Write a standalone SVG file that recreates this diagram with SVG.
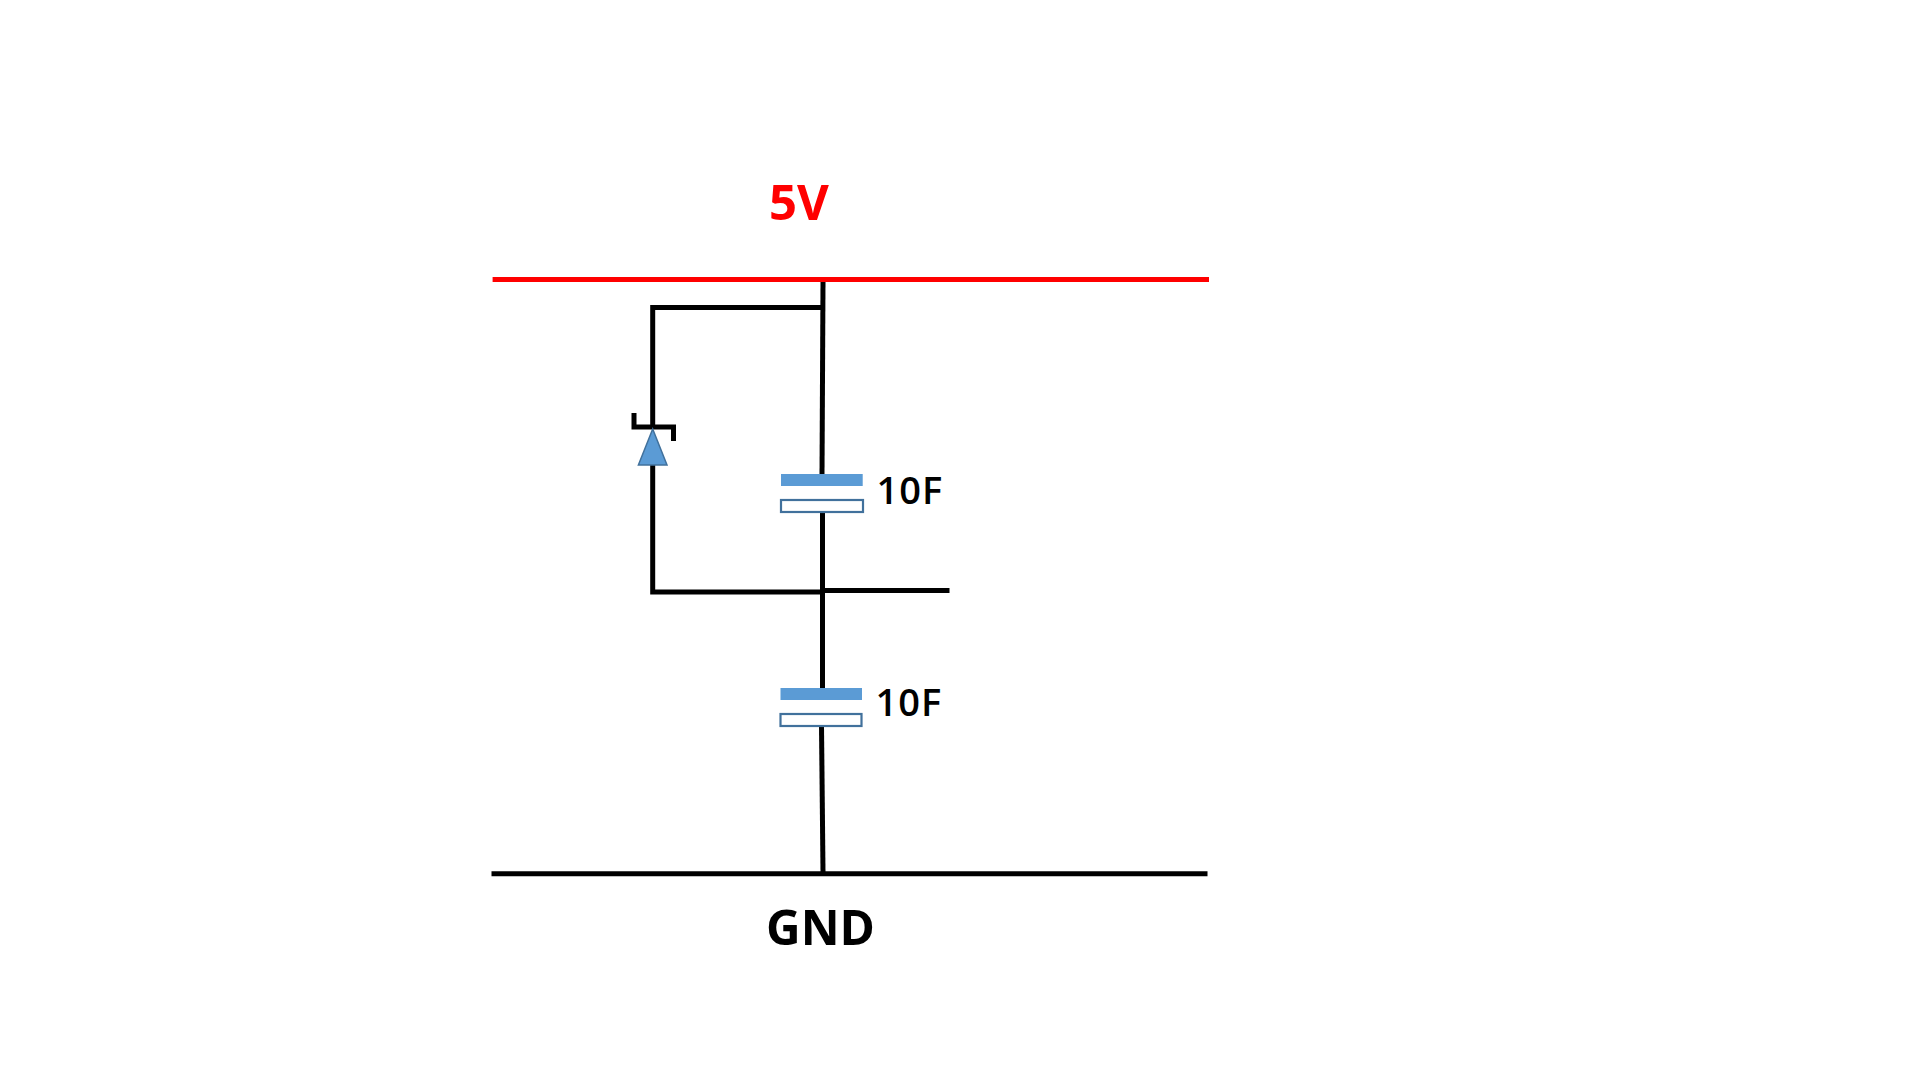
<svg xmlns="http://www.w3.org/2000/svg" width="1920" height="1080" viewBox="0 0 1920 1080">
<style>
.w{stroke:#000;stroke-width:5;fill:none}
.plate{fill:#5b9bd5}
.plate2{fill:#fff;stroke:#41719c;stroke-width:2.2}
.t{font-family:"Open Sans","Noto Sans",sans-serif;fill:#000}
.lbl{font-size:38px;font-weight:600;letter-spacing:1px}
.big{font-size:49px;font-weight:700}
</style>
<rect width="1920" height="1080" fill="#fff"/>
<g id="connectors">
<path class="w" d="M823 282L822 474"/>
<path class="w" d="M822.500 512V689"/>
<path class="w" d="M821.500 726L823 872"/>
<path class="w" d="M823 307.500H652.700V429"/>
<path class="w" d="M652.700 465V592H822"/>
<path class="w" d="M822 590.500H949.500"/>
<path d="M492.600 279.500H1209" stroke="#f00" stroke-width="5" fill="none"/>
<path class="w" d="M491.500 873.800H1207.500"/>
</g>
<g id="vcc"><text class="t big" x="769" y="220" style="fill:#f00">5V</text></g>
<g id="gnd"><text class="t big" x="766" y="945" textLength="109" lengthAdjust="spacingAndGlyphs">GND</text></g>
<g id="zener">
<path class="w" d="M634 413V427H673.500V441"/>
<path d="M652.700 429L667 465H638.400Z" fill="#5b9bd5" stroke="#41719c" stroke-width="1.500"/>
</g>
<g id="c1">
<rect class="plate" x="781" y="474" width="81.700" height="12"/>
<rect class="plate2" x="781" y="500" width="82" height="12"/>
<text class="t lbl" x="876.500" y="504">10F</text>
</g>
<g id="c2">
<rect class="plate" x="780.500" y="688" width="81.500" height="12"/>
<rect class="plate2" x="780.500" y="714" width="81" height="12"/>
<text class="t lbl" x="875.500" y="716">10F</text>
</g>
</svg>
